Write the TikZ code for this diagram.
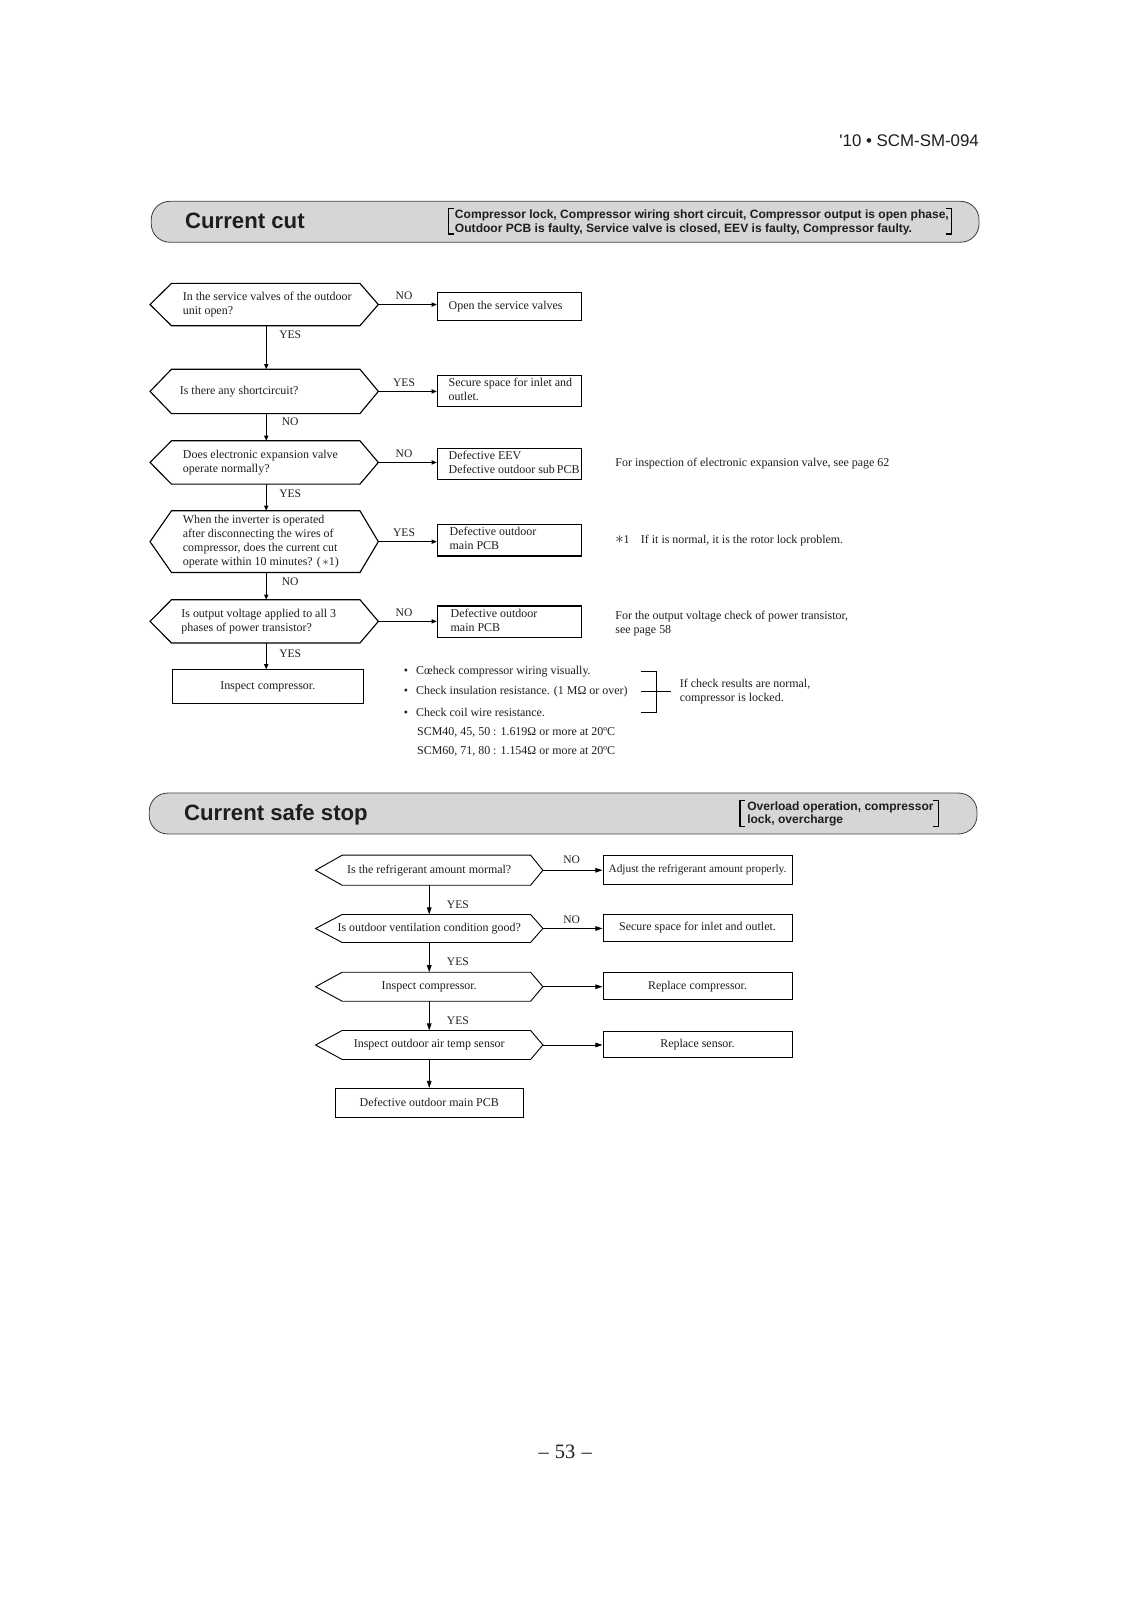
\documentclass[tikz,border=0pt]{standalone}
\usepackage{fontspec}
\setmainfont{Liberation Serif}
\newfontfamily\arialf{Liberation Sans}
\usetikzlibrary{arrows.meta}
\definecolor{bannerfill}{RGB}{214,214,214}
\definecolor{txt}{RGB}{30,30,30}
\newcommand\tl[2]{\makebox[#1][l]{\begin{tabular}{@{}l@{}}#2\end{tabular}}}
\newcommand\hexout[4][]{\draw[#1] ([xshift=#3]#2.north west) -- ([xshift=-#4]#2.north east) -- (#2.east) -- ([xshift=-#4]#2.south east) -- ([xshift=#3]#2.south west) -- (#2.west) -- cycle;}
\newcommand\bigast{\raisebox{-0.3pt}{\scalebox{1.35}{$\ast$}}}
\newcommand\bul{\makebox[12pt][l]{•}}
\begin{document}
\begin{tikzpicture}[x=1pt,y=-1pt,
  every node/.style={font=\fontsize{11.7}{13.8}\selectfont, inner sep=0pt, text=txt},
  hexA/.style={minimum width=223pt, inner xsep=32pt, inner ysep=0pt, minimum height=#1},
  hexlineA/.style={line width=1.1pt, line join=miter},
  boxA/.style={draw, line width=1.1pt, minimum width=141pt, inner xsep=11pt, minimum height=#1},
  arrA/.style={line width=1.1pt, -{Triangle[length=5pt,width=4pt]}},
  labA/.style={font=\fontsize{11.3}{13}\selectfont},
  hexB/.style={minimum width=222pt, minimum height=#1},
  hexlineB/.style={line width=0.9pt, line join=miter},
  boxB/.style={draw, line width=0.9pt, minimum width=185pt, minimum height=#1},
  arrB/.style={line width=0.9pt, -{Triangle[length=7pt,width=4.5pt]}},
  bannerbox/.style={draw=black!75, line width=0.8pt, fill=bannerfill, rounded corners=18pt, minimum width=810pt, minimum height=40pt},
  bantitle/.style={anchor=base west, font=\arialf\bfseries\fontsize{21.7}{25}\selectfont},
  bantext/.style={anchor=west, align=left, font=\arialf\bfseries\fontsize{11.8}{13.3}\selectfont},
  brk/.style={line width=1.2pt},
  note/.style={anchor=west}
]
\fill[white] (0,0) rectangle (1106.7,1565.6);
\useasboundingbox (0,0) rectangle (1106.7,1565.6);

% header
\node[anchor=east, font=\arialf\fontsize{16.5}{20}\selectfont] (hdr) at (958,138) {'10 • SCM-SM-094};

% banner 1
\node[bannerbox] (ban1) at (553,217) {};
\node[bantitle] (t1) at (181,223.5) {Current cut};
\node[bantext] (bt1) at (445,217.5) {Compressor lock, Compressor wiring short circuit, Compressor output is open phase,\\Outdoor PCB is faulty, Service valve is closed, EEV is faulty, Compressor faulty.};
\draw[brk] (444,204) -- (439,204) -- (439,229) -- (444,229);
\draw[brk] (926,204) -- (931,204) -- (931,229) -- (926,229);

% chart 1 decisions
\node[hexA=41pt] (h1) at (258.5,298) {\tl{159pt}{In the service valves of the outdoor\\unit open?}};
\hexout[hexlineA]{h1}{21pt}{18pt}
\node[hexA=43pt] (h2) at (258.5,383) {\tl{159pt}{\hspace*{-3pt}Is there any shortcircuit?}};
\hexout[hexlineA]{h2}{21pt}{18pt}
\node[hexA=42pt] (h3) at (258.5,452.5) {\tl{159pt}{Does electronic expansion valve\\operate normally?}};
\hexout[hexlineA]{h3}{21pt}{18pt}
\node[hexA=60pt] (h4) at (258.5,530) {\tl{159pt}{When the inverter is operated\\after disconnecting the wires of\\compressor, does the current cut\\operate within 10 minutes? (\,$\ast$1)}};
\hexout[hexlineA]{h4}{21pt}{18pt}
\node[hexA=42pt] (h5) at (258.5,608) {\tl{159pt}{\hspace*{-1.5pt}Is output voltage applied to all 3\\\hspace*{-1.5pt}phases of power transistor?}};
\hexout[hexlineA]{h5}{21pt}{18pt}

% chart 1 boxes
\node[boxA=28pt] (b1) at (498.5,300) {\tl{119pt}{Open the service valves}};
\node[boxA=31pt] (b2) at (498.5,382.5) {\tl{119pt}{Secure space for inlet and\\outlet.}};
\node[boxA=31pt] (b3) at (498.5,454) {\tl{119pt}{Defective EEV\\Defective outdoor sub\,PCB}};
\node[boxA=31pt] (b4) at (498.5,528.5) {\tl{119pt}{\hspace*{1pt}Defective outdoor\\\hspace*{1pt}main PCB}};
\node[boxA=31pt] (b5) at (498.5,608.5) {\tl{119pt}{\hspace*{2pt}Defective outdoor\\\hspace*{2pt}main PCB}};
\node[draw, line width=1.1pt, minimum width=187pt, minimum height=33pt] (insp) at (262,672) {Inspect compressor.};

% chart 1 connectors
\draw[arrA] (h1.east) -- (h1.east -| b1.west) node[midway, labA, yshift=8.5pt, xshift=-3.5pt] {NO};
\draw[arrA] (h2.east) -- (h2.east -| b2.west) node[midway, labA, yshift=8.5pt, xshift=-3.5pt] {YES};
\draw[arrA] (h3.east) -- (h3.east -| b3.west) node[midway, labA, yshift=8.5pt, xshift=-3.5pt] {NO};
\draw[arrA] (h4.east) -- (h4.east -| b4.west) node[midway, labA, yshift=8.5pt, xshift=-3.5pt] {YES};
\draw[arrA] (h5.east) -- (h5.east -| b5.west) node[midway, labA, yshift=8.5pt, xshift=-3.5pt] {NO};
\draw[arrA] ([xshift=2pt]h1.south) -- ([xshift=2pt]h2.north) node[at start, labA, xshift=23.5pt, yshift=-9pt] {YES};
\draw[arrA] ([xshift=2pt]h2.south) -- ([xshift=2pt]h3.north) node[at start, labA, xshift=23.5pt, yshift=-8pt] {NO};
\draw[arrA] ([xshift=2pt]h3.south) -- ([xshift=2pt]h4.north) node[at start, labA, xshift=23.5pt, yshift=-9pt] {YES};
\draw[arrA] ([xshift=2pt]h4.south) -- ([xshift=2pt]h5.north) node[at start, labA, xshift=23.5pt, yshift=-9pt] {NO};
\draw[arrA] ([xshift=2pt]h5.south) -- ([xshift=2pt]h5.south |- insp.north) node[at start, labA, xshift=23.5pt, yshift=-10pt] {YES};

% chart 1 notes
\node[note] (n1) at (602,454) {For inspection of electronic expansion valve, see page 62};
\node[note] (n2) at (602,529) {\bigast1\hspace{11pt}If it is normal, it is the rotor lock problem.};
\node[note, align=left] (n3) at (602,610) {For the output voltage check of power transistor,\\see page 58};

\node[note] (l1) at (395,657) {\bul Cœheck compressor wiring visually.};
\node[note] (l2) at (395,677) {\bul Check insulation resistance. (1 MΩ or over)};
\node[note] (l3) at (395,697) {\bul Check coil wire resistance.};
\node[note] (l4) at (408,717) {SCM40, 45, 50 : 1.619Ω or more at 20ºC};
\node[note] (l5) at (408,735) {SCM60, 71, 80 : 1.154Ω or more at 20ºC};
\draw[line width=0.9pt] (627,657) -- (642,657) -- (642,697) -- (627,697);
\draw[line width=0.9pt] (627,677) -- (657,677);
\node[note, align=left] (n4) at (665,677) {If check results are normal,\\compressor is locked.};

% banner 2
\node[bannerbox] (ban2) at (551,796) {};
\node[bantitle] (t2) at (180,802.5) {Current safe stop};
\node[bantext] (bt2) at (731,796.5) {Overload operation, compressor\\lock, overcharge};
\draw[brk] (729,783) -- (724,783) -- (724,809) -- (729,809);
\draw[brk] (913,783) -- (918,783) -- (918,809) -- (913,809);

% chart 2
\node[hexB=29pt] (g1) at (420,851.5) {Is the refrigerant amount mormal?};
\hexout[hexlineB]{g1}{26pt}{12pt}
\node[hexB=27pt] (g2) at (420,908.5) {Is outdoor ventilation condition good?};
\hexout[hexlineB]{g2}{26pt}{12pt}
\node[hexB=28pt] (g3) at (420,965.5) {Inspect compressor.};
\hexout[hexlineB]{g3}{26pt}{12pt}
\node[hexB=28pt] (g4) at (420,1022.5) {Inspect outdoor air temp sensor};
\hexout[hexlineB]{g4}{26pt}{12pt}

\node[boxB=28pt, font=\fontsize{11.1}{13}\selectfont] (c1) at (682.5,851) {Adjust the refrigerant amount properly.};
\node[boxB=26pt] (c2) at (682.5,908) {Secure space for inlet and outlet.};
\node[boxB=26pt] (c3) at (682.5,965) {Replace compressor.};
\node[boxB=26pt] (c4) at (682.5,1022) {Replace sensor.};
\node[boxB=28pt, minimum width=184pt] (c5) at (420,1079) {Defective outdoor main PCB};

\draw[arrB] (g1.east) -- (g1.east -| c1.west) node[midway, labA, yshift=10pt, xshift=-1pt] {NO};
\draw[arrB] (g2.east) -- (g2.east -| c2.west) node[midway, labA, yshift=9pt, xshift=-1pt] {NO};
\draw[arrB] (g3.east) -- (g3.east -| c3.west);
\draw[arrB] (g4.east) -- (g4.east -| c4.west);
\draw[arrB] (g1.south) -- (g2.north) node[pos=0.65, labA, xshift=28pt] {YES};
\draw[arrB] (g2.south) -- (g3.north) node[pos=0.65, labA, xshift=28pt] {YES};
\draw[arrB] (g3.south) -- (g4.north) node[pos=0.65, labA, xshift=28pt] {YES};
\draw[arrB] (g4.south) -- (g4.south |- c5.north);

% page number
\node[font=\fontsize{20}{24}\selectfont] (pg) at (553,1421) {–\hspace{6pt}53\hspace{6pt}–};
\end{tikzpicture}
\end{document}
